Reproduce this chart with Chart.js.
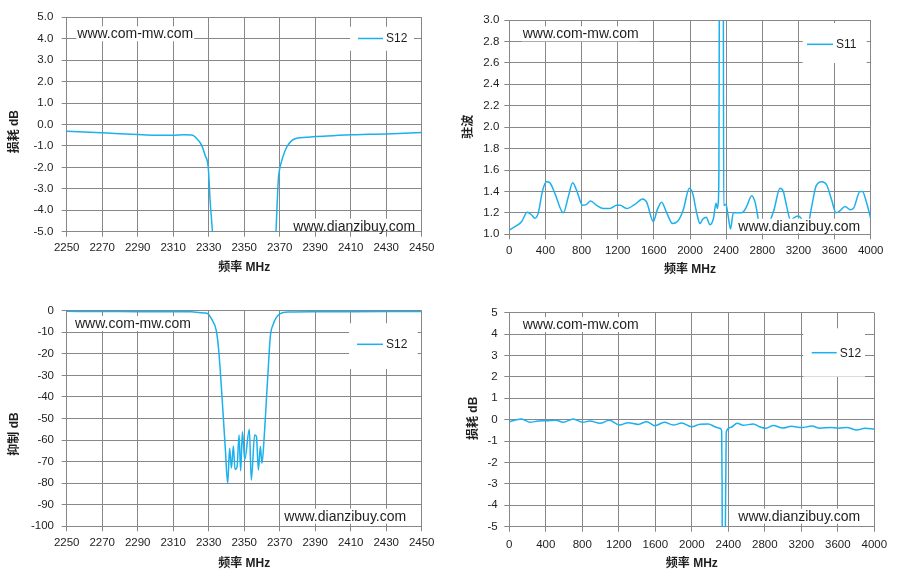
<!DOCTYPE html>
<html>
<head>
<meta charset="utf-8">
<script src="https://cdn.jsdelivr.net/npm/chart.js@4/dist/chart.umd.min.js"></script>
<style>
  html, body { margin: 0; padding: 0; background: #fff; }
  #wrap { position: relative; width: 899px; height: 585px; overflow: hidden; }
  canvas { position: absolute; }
</style>
</head>
<body>
<div id="wrap">
  <canvas id="c1" width="450" height="292" style="left:0px;top:0px"></canvas>
  <canvas id="c2" width="449" height="292" style="left:450px;top:0px"></canvas>
  <canvas id="c3" width="450" height="292" style="left:0px;top:293px"></canvas>
  <canvas id="c4" width="449" height="292" style="left:450px;top:293px"></canvas>
</div>
<script>
// top-left: S12 close in, 2250-2450 MHz (dB)
var nbLossFreq = [2250, 2260, 2270, 2280, 2290, 2300, 2310, 2316, 2320.4, 2323.2, 2326, 2327.9, 2329.8, 2330.8,
  2332.1, 2334, 2350, 2366, 2367.9, 2369.2, 2369.8, 2371.1, 2373.9, 2376.8, 2379.6, 2385, 2390, 2400, 2410,
  2420, 2430, 2440, 2450];
var nbLossDb = [-0.31, -0.35, -0.39, -0.43, -0.47, -0.5, -0.5, -0.48, -0.49, -0.65, -0.96, -1.42, -2.05, -3.56,
  -5.0, -8, -60, -8, -5.0, -2.6, -2.15, -1.7, -1.06, -0.75, -0.64, -0.6, -0.56, -0.52, -0.48,
  -0.46, -0.44, -0.41, -0.37];

// top-right: S11 as VSWR, 0-4000 MHz
var wbVswrFreq = [0, 81, 137, 199, 247, 284, 321, 369, 413, 450, 505, 598, 653, 701, 745, 812, 856, 900, 967,
  1041, 1114, 1188, 1225, 1299, 1391, 1476, 1520, 1594, 1638, 1686, 1742, 1808, 1871, 1926, 1993, 2030, 2074,
  2111, 2140, 2180, 2221, 2260, 2288, 2302, 2312, 2320, 2325, 2332, 2362, 2369, 2373, 2398, 2424, 2448, 2480,
  2546, 2590, 2627, 2683, 2720, 2775, 2805, 2867, 2930, 2996, 3033, 3070, 3114, 3162, 3199, 3255, 3299, 3347,
  3395, 3458, 3513, 3568, 3616, 3661, 3716, 3771, 3808, 3882, 3908, 3956, 4000];
var wbVswr = [1.04, 1.08, 1.12, 1.205, 1.18, 1.15, 1.2, 1.41, 1.49, 1.48, 1.38, 1.2, 1.35, 1.48, 1.41, 1.27, 1.28, 1.31, 1.27,
  1.24, 1.24, 1.27, 1.27, 1.24, 1.28, 1.33, 1.3, 1.12, 1.23, 1.3, 1.2, 1.1, 1.13, 1.23, 1.43, 1.38, 1.2,
  1.1, 1.14, 1.16, 1.09, 1.15, 1.29, 1.24, 1.29, 1.6, 3.4, 6, 6, 3.2, 1.27, 1.28, 1.16, 1.05, 1.2,
  1.2, 1.21, 1.26, 1.36, 1.3, 1.07, 1.05, 1.09, 1.23, 1.43, 1.4, 1.26, 1.13, 1.16, 1.17, 1.12, 1.07, 1.26,
  1.45, 1.49, 1.46, 1.32, 1.2, 1.22, 1.26, 1.23, 1.24, 1.4, 1.4, 1.29, 1.15];

// bottom-left: S12 rejection, 2250-2450 MHz (dB)
var nbRejFreq = [2250, 2270, 2290, 2310, 2320, 2325.3, 2329, 2331.9, 2334.3, 2335.6, 2337, 2338.1, 2339.4, 2340.7,
  2341.8, 2342.8, 2343.9, 2344.8, 2346, 2347.1, 2348, 2349, 2350.3, 2352.9, 2354, 2355.9, 2356.9, 2358, 2359.1,
  2360, 2361.4, 2362.5, 2363.6, 2364.7, 2366.2, 2370, 2375, 2390, 2410, 2430, 2450];
var nbRejDb = [-0.3, -0.35, -0.45, -0.5, -0.5, -0.9, -1.2, -4.3, -9.3, -18, -33.7, -47.6, -64.6, -80,
  -63.8, -73, -62.7, -73.6, -72.3, -57.6, -74.2, -56.1, -69, -55, -78.5, -57.6, -58.4, -73.9, -63,
  -70.8, -56.9, -41.4, -26, -12, -6.6, -1.5, -0.6, -0.5, -0.45, -0.4, -0.35];

// bottom-right: S12 wideband, 0-4000 MHz (dB)
var wbLossFreq = [0, 80, 135, 226, 318, 409, 511, 592, 701, 804, 884, 994, 1096, 1206, 1304, 1414, 1505, 1596,
  1699, 1797, 1889, 1998, 2090, 2181, 2254, 2309, 2327, 2332, 2336, 2360, 2372, 2378, 2425, 2498, 2564, 2674,
  2740, 2813, 2893, 2995, 3090, 3206, 3316, 3407, 3516, 3608, 3699, 3809, 3900, 4000];
var wbLossDb = [-0.09, 0.0, 0.03, -0.12, -0.06, -0.05, -0.02, -0.12, 0.03, -0.12, -0.06, -0.17, -0.03, -0.25, -0.14, -0.22, -0.09, -0.28,
  -0.12, -0.25, -0.16, -0.33, -0.21, -0.2, -0.33, -0.4, -0.51, -3, -8, -8, -3, -0.56, -0.36, -0.17, -0.26, -0.2,
  -0.33, -0.4, -0.27, -0.39, -0.31, -0.37, -0.3, -0.4, -0.36, -0.4, -0.36, -0.48, -0.4, -0.44];

// tick labels
var nbFreqTicks = [2250, 2270, 2290, 2310, 2330, 2350, 2370, 2390, 2410, 2430, 2450];
var wbFreqTicks = [0, 400, 800, 1200, 1600, 2000, 2400, 2800, 3200, 3600, 4000];
var lossTicks = [5, 4, 3, 2, 1, 0, -1, -2, -3, -4, -5];
var vswrTicks = [1.0, 1.2, 1.4, 1.6, 1.8, 2.0, 2.2, 2.4, 2.6, 2.8, 3.0];
var rejTicks = [0, -10, -20, -30, -40, -50, -60, -70, -80, -90, -100];

var BLUE = '#1cb0ee';
var GRID = '#878787';
var INK = '#1e1e1e';
var SANS = '"Liberation Sans", Arial, "Noto Sans CJK SC", sans-serif';

function pairs(xs, ys) {
  return xs.map(function (x, i) { return { x: x, y: ys[i] }; });
}

// watermarks, in-plot legend and the vertical axis title
var overlay = {
  id: 'overlay',
  afterDatasetsDraw: function (chart, args, o) {
    var ctx = chart.ctx;
    var area = chart.chartArea;
    ctx.save();
    ctx.font = '14px ' + SANS;
    ctx.textBaseline = 'middle';
    ctx.textAlign = 'left';
    o.stamps.forEach(function (s) {
      var w = ctx.measureText(s[0]).width;
      var top = s[2] - 8;
      var bottom = Math.min(s[2] + 7, area.bottom - 1);
      ctx.fillStyle = '#fff';
      ctx.fillRect(s[1] - 1, top, w + 2, bottom - top);
      ctx.fillStyle = INK;
      ctx.fillText(s[0], s[1], s[2]);
    });

    var ds = chart.data.datasets[0];
    var b = o.legendBox;
    ctx.fillStyle = '#fff';
    ctx.fillRect(b[0], b[1], b[2] - b[0], b[3] - b[1]);
    ctx.strokeStyle = ds.borderColor;
    ctx.lineWidth = 1.5;
    ctx.beginPath();
    ctx.moveTo(o.legendLine[0], o.legendLine[2]);
    ctx.lineTo(o.legendLine[1], o.legendLine[2]);
    ctx.stroke();
    ctx.font = '12px ' + SANS;
    ctx.fillStyle = INK;
    ctx.fillText(ds.label, o.legendLine[1] + 3, o.legendLine[2] + 0.5);

    ctx.translate(o.yTitle[1], o.yTitle[2]);
    ctx.rotate(-Math.PI / 2);
    ctx.font = 'bold 12px ' + SANS;
    ctx.textAlign = 'center';
    ctx.fillText(o.yTitle[0], 0, 0);
    ctx.restore();
  }
};

function makeChart(id, o) {
  var canvas = document.getElementById(id);
  var W = canvas.width, H = canvas.height;
  var tickFont = { family: SANS, size: 11.5 };
  return new Chart(canvas, {
    type: 'line',
    data: {
      datasets: [{
        label: o.label,
        data: pairs(o.xs, o.ys),
        borderColor: BLUE,
        borderWidth: 1.5,
        pointRadius: 0,
        fill: false,
        cubicInterpolationMode: 'monotone'
      }]
    },
    options: {
      responsive: false,
      animation: false,
      events: [],
      layout: { padding: { left: 0, top: o.area[1], right: W - o.area[2], bottom: 0 } },
      plugins: {
        legend: { display: false },
        tooltip: { enabled: false },
        overlay: o.overlay
      },
      scales: {
        x: {
          type: 'linear',
          min: o.xTicks[0],
          max: o.xTicks[o.xTicks.length - 1],
          afterBuildTicks: function (s) { s.ticks = o.xTicks.map(function (v) { return { value: v }; }); },
          afterFit: function (s) { s.height = H - o.area[3]; },
          grid: { color: GRID, lineWidth: 1, tickLength: 5 },
          border: { color: GRID, width: 1 },
          ticks: {
            font: tickFont, color: INK, padding: o.xPad, maxRotation: 0, autoSkip: false,
            callback: function (v) { return String(v); }
          },
          title: {
            display: true, text: '频率 MHz', color: INK,
            font: { family: SANS, size: 12, weight: 'bold' },
            padding: { top: 0, bottom: o.titlePad }
          }
        },
        y: {
          type: 'linear',
          min: Math.min.apply(null, o.yTicks),
          max: Math.max.apply(null, o.yTicks),
          afterBuildTicks: function (s) { s.ticks = o.yTicks.slice().reverse().map(function (v) { return { value: v }; }); },
          afterFit: function (s) { s.width = o.area[0]; },
          grid: { color: GRID, lineWidth: 1, tickLength: 5 },
          border: { color: GRID, width: 1 },
          ticks: {
            font: tickFont, color: INK, padding: o.yPad, autoSkip: false,
            callback: function (v) { return o.decimals ? v.toFixed(o.decimals) : String(v); }
          }
        }
      }
    },
    plugins: [overlay]
  });
}

makeChart('c1', {
  label: 'S12', xs: nbLossFreq, ys: nbLossDb, xTicks: nbFreqTicks, yTicks: lossTicks, decimals: 1,
  area: [66.7, 17.3, 421.7, 231.7], xPad: 4.7, yPad: 8.4, titlePad: 17,
  overlay: {
    stamps: [['www.com-mw.com', 77.3, 34.3], ['www.dianzibuy.com', 293.3, 226.7]],
    legendBox: [350, 26.7, 414, 50.7], legendLine: [358, 383, 38.5],
    yTitle: ['损耗 dB', 15, 131.7]
  }
});

makeChart('c2', {
  label: 'S11', xs: wbVswrFreq, ys: wbVswr, xTicks: wbFreqTicks, yTicks: vswrTicks, decimals: 1,
  area: [59.3, 20, 420.7, 234.3], xPad: 4.5, yPad: 5, titlePad: 14.8,
  overlay: {
    stamps: [['www.com-mw.com', 72.7, 34.3], ['www.dianzibuy.com', 288.3, 226.7]],
    legendBox: [352.7, 23, 416.7, 63], legendLine: [357, 383, 44.3],
    yTitle: ['驻波', 18.3, 126.7]
  }
});

makeChart('c3', {
  label: 'S12', xs: nbRejFreq, ys: nbRejDb, xTicks: nbFreqTicks, yTicks: rejTicks, decimals: 0,
  area: [66.7, 17.7, 421.7, 233.3], xPad: 5.1, yPad: 7.7, titlePad: 14.5,
  overlay: {
    stamps: [['www.com-mw.com', 75, 31], ['www.dianzibuy.com', 284.3, 223.7]],
    legendBox: [349, 30.3, 417.7, 76], legendLine: [357, 383, 51.3],
    yTitle: ['抑制 dB', 15, 141]
  }
});

makeChart('c4', {
  label: 'S12', xs: wbLossFreq, ys: wbLossDb, xTicks: wbFreqTicks, yTicks: lossTicks, decimals: 0,
  area: [59.3, 19.7, 424.3, 233.7], xPad: 6.4, yPad: 6.6, titlePad: 14.5,
  overlay: {
    stamps: [['www.com-mw.com', 72.7, 32], ['www.dianzibuy.com', 288.3, 223.7]],
    legendBox: [353.3, 35.3, 415, 83.7], legendLine: [361.7, 386.7, 59.7],
    yTitle: ['损耗 dB', 24, 125.3]
  }
});
</script>
</body>
</html>
